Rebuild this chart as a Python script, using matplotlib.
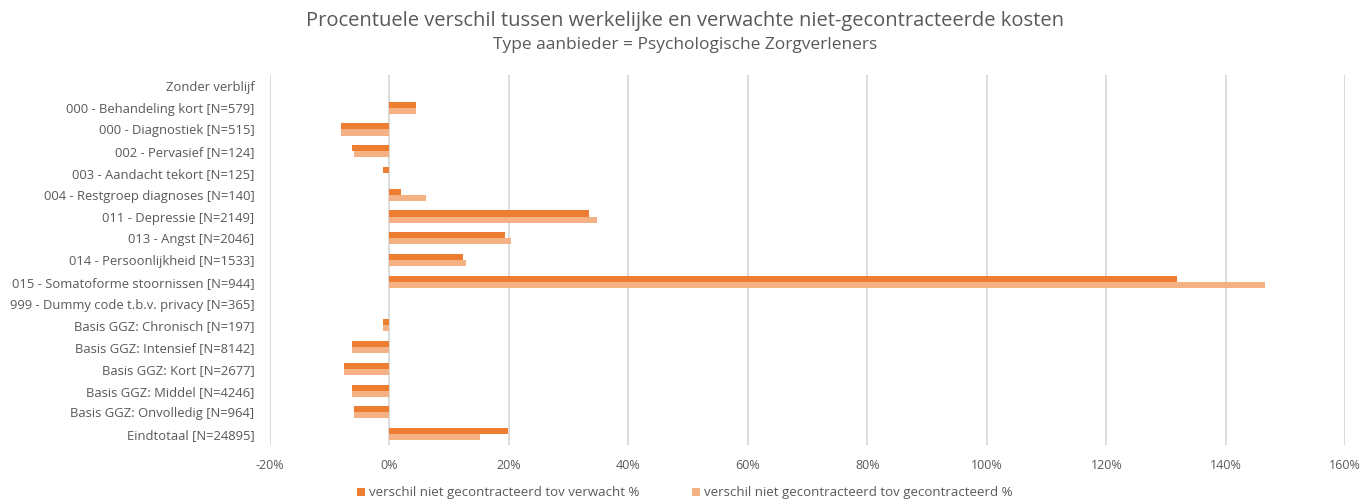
import numpy as np
import matplotlib.pyplot as plt

categories = [
    'Zonder verblijf',
    '000 - Behandeling kort [N=579]',
    '000 - Diagnostiek [N=515]',
    '002 - Pervasief [N=124]',
    '003 - Aandacht tekort [N=125]',
    '004 - Restgroep diagnoses [N=140]',
    '011 - Depressie [N=2149]',
    '013 - Angst [N=2046]',
    '014 - Persoonlijkheid [N=1533]',
    '015 - Somatoforme stoornissen [N=944]',
    '999 - Dummy code t.b.v. privacy [N=365]',
    'Basis GGZ: Chronisch [N=197]',
    'Basis GGZ: Intensief [N=8142]',
    'Basis GGZ: Kort [N=2677]',
    'Basis GGZ: Middel [N=4246]',
    'Basis GGZ: Onvolledig [N=964]',
    'Eindtotaal [N=24895]',
]
tov_verwacht = [0, 4.5, -8.1, -6.3, -1.1, 2.0, 33.4, 19.4, 12.4, 131.9, 0,
                -1.1, -6.3, -7.6, -6.3, -5.9, 19.8]
tov_gecontracteerd = [0, 4.5, -8.1, -5.9, 0, 6.2, 34.7, 20.4, 12.9, 146.5, 0,
                      -1.1, -6.3, -7.6, -6.3, -5.9, 15.1]
x_ticks = list(range(-20, 161, 20))

text_col = '#595959'
plt.rcParams['font.family'] = ['Open Sans', 'DejaVu Sans']

fig = plt.figure(figsize=(13.7, 5.04), dpi=100)
ax = fig.add_axes([0.197, 0.117, 0.785, 0.734])

y = np.arange(len(categories))
h = 0.28
ax.barh(y - h / 2, tov_verwacht, height=h, color='#ED7D31',
        label='verschil niet gecontracteerd tov verwacht %')
ax.barh(y + h / 2, tov_gecontracteerd, height=h, color='#F4B183',
        label='verschil niet gecontracteerd tov gecontracteerd %')

ax.set_ylim(len(categories) - 0.5, -0.5)
ax.set_xlim(-20, 160)
ax.set_xticks(x_ticks)
ax.set_xticklabels([f'{t}%' for t in x_ticks])
ax.set_yticks(y)
ax.set_yticklabels(categories)
ax.tick_params(axis='both', length=0, labelsize=9, labelcolor=text_col)
ax.tick_params(axis='x', pad=10)
ax.tick_params(axis='y', pad=11, labelsize=9.4)
ax.grid(axis='x', color='#D9D9D9', linewidth=1.3)
ax.set_axisbelow(True)
for s in ax.spines.values():
    s.set_visible(False)

fig.text(0.5, 0.958, 'Procentuele verschil tussen werkelijke en verwachte niet-gecontracteerde kosten',
         ha='center', va='center', fontsize=14.5, color=text_col)
fig.text(0.5, 0.91, 'Type aanbieder = Psychologische Zorgverleners',
         ha='center', va='center', fontsize=12.5, color=text_col)

fig.legend(loc='center', bbox_to_anchor=(0.5, 0.022), ncol=2, frameon=False,
           fontsize=9.5, labelcolor=text_col, handlelength=0.6, handleheight=0.6,
           columnspacing=4, handletextpad=0.3)

fig.savefig('out.png', dpi=100)
